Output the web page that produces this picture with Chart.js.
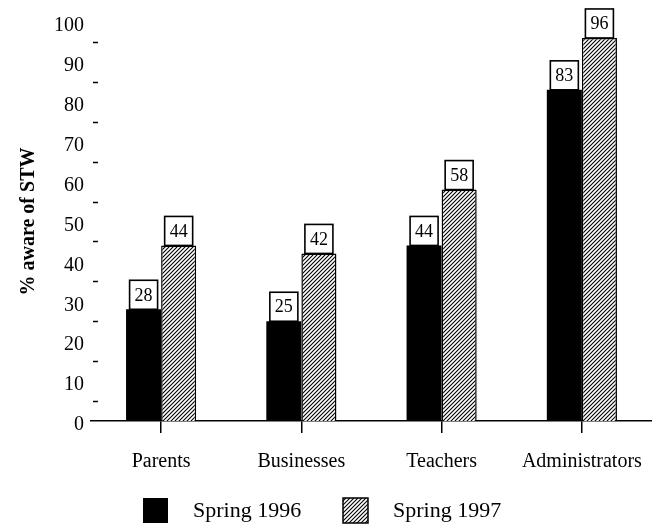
<!DOCTYPE html>
<html>
<head>
<meta charset="utf-8">
<script src="https://cdn.jsdelivr.net/npm/chart.js@4"></script>
<style>
  html, body { margin: 0; padding: 0; background: #fff; }
  #wrap { width: 652px; height: 527px; position: relative; }
</style>
</head>
<body>
<div id="wrap"><canvas id="myChart"></canvas></div>
<script>
// chart data
const groups = ["Parents", "Businesses", "Teachers", "Administrators"];
const seriesNames = ["Spring 1996", "Spring 1997"];
const spring1996 = [28, 25, 44, 83];
const spring1997 = [44, 42, 58, 96];
const yMin = 0;
const yMax = 100;
const yStep = 10;

const serif = "'Liberation Serif', 'Times New Roman', serif";

// diagonal hatch for the second series
function makeHatch() {
  const c = document.createElement("canvas");
  c.width = 4;
  c.height = 4;
  const g = c.getContext("2d");
  g.fillStyle = "#fff";
  g.fillRect(0, 0, 4, 4);
  g.strokeStyle = "#000";
  g.lineWidth = 1.1;
  g.beginPath();
  g.moveTo(0, 4); g.lineTo(4, 0);
  g.moveTo(-1, 1); g.lineTo(1, -1);
  g.moveTo(3, 5); g.lineTo(5, 3);
  g.stroke();
  return g.createPattern(c, "repeat");
}
const hatch = makeHatch();

// small boxes with the value above each bar
const valueBoxes = {
  id: "valueBoxes",
  afterDatasetsDraw(chart) {
    const ctx = chart.ctx;
    ctx.save();
    ctx.font = "18px " + serif;
    ctx.textAlign = "center";
    ctx.textBaseline = "middle";
    chart.data.datasets.forEach((ds, i) => {
      chart.getDatasetMeta(i).data.forEach((bar, j) => {
        const w = 28, h = 29;
        ctx.fillStyle = "#fff";
        ctx.fillRect(bar.x - w / 2, bar.y - h, w, h);
        ctx.strokeStyle = "#000";
        ctx.lineWidth = 1.6;
        ctx.strokeRect(bar.x - w / 2, bar.y - h, w, h);
        ctx.fillStyle = "#000";
        ctx.fillText(ds.data[j], bar.x, bar.y - h / 2 + 1);
      });
    });
    ctx.restore();
  }
};

// little dashes halfway between the y labels
const minorDashes = {
  id: "minorDashes",
  afterDraw(chart) {
    const y = chart.scales.y;
    const ctx = chart.ctx;
    const left = chart.chartArea.left;
    ctx.save();
    ctx.strokeStyle = "#000";
    ctx.lineWidth = 1.5;
    for (let i = 1; i < y.ticks.length; i++) {
      const mid = (y.ticks[i - 1].value + y.ticks[i].value) / 2;
      const py = Math.round(y.getPixelForValue(mid)) + 0.5;
      ctx.beginPath();
      ctx.moveTo(left + 2, py);
      ctx.lineTo(left + 7, py);
      ctx.stroke();
    }
    ctx.restore();
  }
};

// legend under the chart
const bottomLegend = {
  id: "bottomLegend",
  afterDraw(chart) {
    const ctx = chart.ctx;
    const boxX = [143, 343];
    const textX = [193, 393];
    ctx.save();
    ctx.font = "22px " + serif;
    ctx.textBaseline = "middle";
    chart.data.datasets.forEach((ds, i) => {
      ctx.fillStyle = ds.backgroundColor;
      ctx.fillRect(boxX[i], 498, 25, 25);
      if (ds.borderWidth) {
        ctx.strokeStyle = "#000";
        ctx.lineWidth = 1.5;
        ctx.strokeRect(boxX[i], 498, 25, 25);
      }
      ctx.fillStyle = "#000";
      ctx.fillText(ds.label, textX[i], 511);
    });
    ctx.restore();
  }
};

const ctx = document.getElementById("myChart");
new Chart(ctx, {
  type: "bar",
  data: {
    labels: groups,
    datasets: [
      {
        label: seriesNames[0],
        data: spring1996,
        backgroundColor: "#000",
        borderWidth: 0
      },
      {
        label: seriesNames[1],
        data: spring1997,
        backgroundColor: hatch,
        borderColor: "#000",
        borderWidth: 1.5
      }
    ]
  },
  options: {
    responsive: true,
    maintainAspectRatio: false,
    animation: false,
    datasets: {
      bar: { barPercentage: 1, categoryPercentage: 0.5 }
    },
    layout: { padding: { top: 22, right: 0, bottom: 46, left: 0 } },
    plugins: {
      legend: { display: false },
      tooltip: { enabled: false }
    },
    scales: {
      x: {
        grid: {
          display: true,
          drawOnChartArea: false,
          offset: false,
          tickLength: 12,
          color: "#000",
          lineWidth: 1.5
        },
        border: { display: true, color: "#000", width: 1.5 },
        ticks: {
          color: "#000",
          font: { family: serif, size: 20 },
          padding: 17,
          maxRotation: 0
        },
        afterFit(scale) {
          scale.height = 60;
          scale.paddingRight = 0;
          scale.paddingLeft = 0;
        }
      },
      y: {
        min: yMin,
        max: yMax,
        grid: { display: false, drawTicks: false },
        border: { display: false },
        ticks: {
          stepSize: yStep,
          color: "#000",
          font: { family: serif, size: 20 },
          padding: 7,
          labelOffset: 4
        },
        title: {
          display: true,
          text: "% aware of STW",
          color: "#000",
          font: { family: serif, size: 20, weight: "bold" },
          padding: { top: 17, bottom: 0 }
        },
        afterFit(scale) { scale.width = 91; }
      }
    }
  },
  plugins: [valueBoxes, minorDashes, bottomLegend]
});
</script>
</body>
</html>
